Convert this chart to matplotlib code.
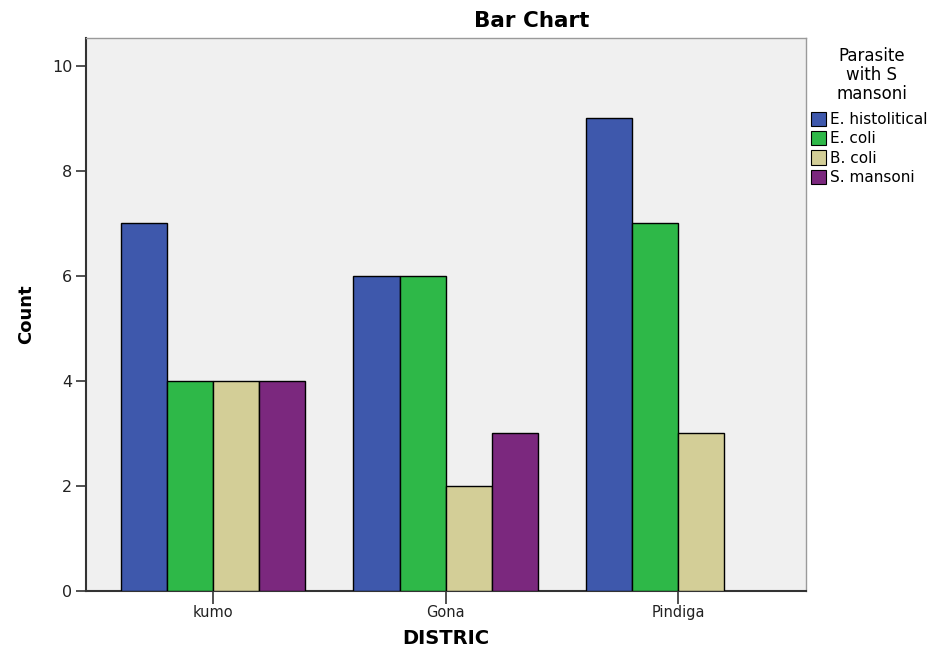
import matplotlib
matplotlib.use("Agg")
import matplotlib.pyplot as plt
import numpy as np
from matplotlib.patches import Patch

districts = ["kumo", "Gona", "Pindiga"]
parasites = ["E. histolitical", "E. coli", "B. coli", "S. mansoni"]
e_histolitical = [7, 6, 9]
e_coli = [4, 6, 7]
b_coli = [4, 2, 3]
s_mansoni = [4, 3, 0]
series = [e_histolitical, e_coli, b_coli, s_mansoni]
colors = ["#3e58ac", "#2eb848", "#d3ce97", "#7b287e"]

plt.rcParams['font.family'] = ['DejaVu Sans']

W, H = 933, 650
fig = plt.figure(figsize=(9.33, 6.5), dpi=100)
ax = fig.add_axes([0.0922, 0.0908, 0.7717, 0.8508])
ax.set_facecolor("#f0f0f0")

x = np.arange(len(districts))
w = 0.198
for i, (vals, c) in enumerate(zip(series, colors)):
    offs = (i - 1.5) * w
    v = np.array(vals, dtype=float)
    mask = v > 0
    ax.bar(x[mask] + offs, v[mask], width=w, color=c, edgecolor="black", linewidth=1.0, zorder=3)

ax.set_xlim(-0.546, 2.55)
ax.set_ylim(0, 10.53)
ax.set_yticks([0, 2, 4, 6, 8, 10])
ax.set_xticks(x)
ax.set_xticklabels(districts, fontsize=10.5, color="#222222")
ax.tick_params(axis='y', labelsize=11.5, length=7, width=1.2, color="#333333", labelcolor="#222222", pad=3)
ax.tick_params(axis='x', length=9, width=1.2, color="#333333", pad=1)
for s in ["left", "bottom"]:
    ax.spines[s].set_color("#333333")
    ax.spines[s].set_linewidth(1.5)
for s in ["top", "right"]:
    ax.spines[s].set_color("#9a9a9a")
    ax.spines[s].set_linewidth(1.0)

ax.set_title("Bar Chart", fontsize=15.5, fontweight="bold", x=0.619, pad=8)
ax.set_ylabel("Count", fontsize=13, fontweight="bold", labelpad=12)
fig.text(446 / W, 1 - 639 / H, "DISTRIC", fontsize=14, fontweight="bold",
         ha="center", va="center")

# legend title
fig.text(872 / W, 1 - 75 / H, "Parasite\nwith S\nmansoni", fontsize=12,
         ha="center", va="center", multialignment="center", linespacing=1.05)

handles = [Patch(facecolor=c, edgecolor="black", linewidth=0.8) for c in colors]
leg = fig.legend(handles, parasites, loc="upper left",
                 bbox_to_anchor=(806 / W, 1 - 107 / H), frameon=False,
                 fontsize=11, handlelength=1.0, handleheight=1.05,
                 handletextpad=0.25, labelspacing=0.27, borderaxespad=0.0, borderpad=0.3)

fig.savefig("out.png", dpi=100)
